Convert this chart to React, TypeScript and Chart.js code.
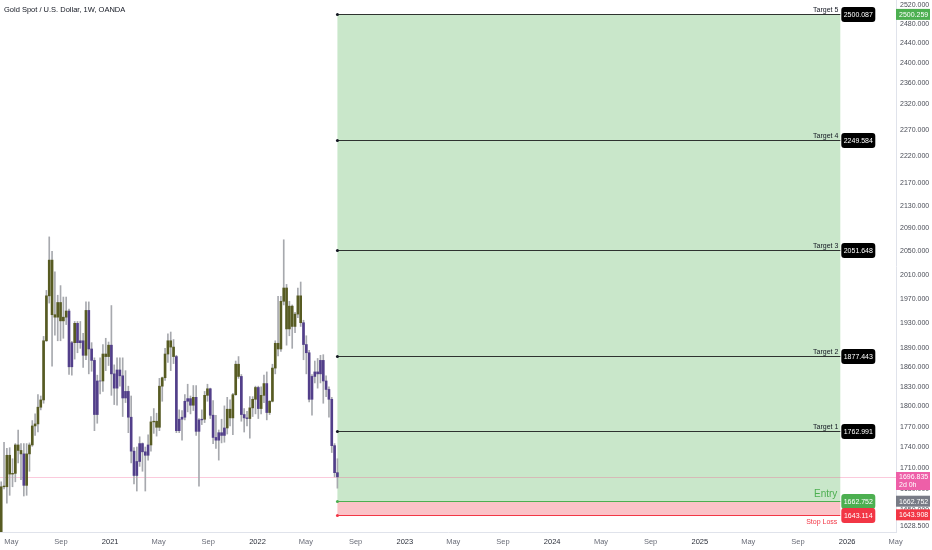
import React, { useEffect, useRef } from 'react';
import { Chart, registerables } from 'chart.js';

Chart.register(...registerables);

const FONT = '"Liberation Sans Narrow", "Liberation Sans", Arial, sans-serif';

const chartTitle = 'Gold Spot / U.S. Dollar, 1W, OANDA';
const firstWeek = '2020-04-06';
const xDomain = ['2020-04-03', '2026-05-02'];
const priceRange = [1620.4, 2530.6];

// weekly OHLC, Apr 2020 – Jul 2022
const opens = [
  1620, 1684, 1683, 1728, 1701, 1702, 1743, 1735, 1730, 1685, 1730, 1743, 1771, 1774, 1799, 1810, 1902, 1975, 2035, 1944,
  1940, 1964, 1934, 1940, 1950, 1861, 1899, 1930, 1899, 1902, 1879, 1951, 1889, 1871, 1788, 1839, 1839, 1881, 1877,
  1895, 1850, 1828, 1856, 1847, 1813, 1823, 1784, 1734, 1699, 1719, 1745, 1733, 1728, 1743, 1777, 1778, 1769, 1831, 1844,
  1881, 1902, 1892, 1877, 1764, 1781, 1784, 1808, 1812, 1802, 1814, 1763, 1780, 1781, 1817, 1827, 1787, 1754, 1750, 1761,
  1757, 1768, 1796, 1783, 1818, 1865, 1846, 1788, 1783, 1782, 1798, 1811,
  1829, 1797, 1817, 1835, 1791, 1808, 1859, 1898, 1889, 1966, 1988, 1921, 1958, 1925, 1945, 1975, 1931, 1896, 1883, 1811,
  1846, 1853, 1850, 1871, 1839, 1826, 1811, 1742, 1703,
];
const highs = [
  1690, 1747, 1738, 1739, 1723, 1745, 1765, 1745, 1745, 1745, 1746, 1779, 1789, 1818, 1816, 1909, 1984, 2075, 2050, 2015,
  1976, 1992, 1973, 1973, 1953, 1901, 1933, 1933, 1933, 1914, 1965, 1965, 1899, 1875, 1848, 1875, 1896, 1906, 1900,
  1959, 1864, 1875, 1875, 1875, 1855, 1831, 1816, 1739, 1740, 1755, 1746, 1740, 1758, 1785, 1797, 1790, 1843, 1845, 1890,
  1913, 1916, 1904, 1879, 1795, 1794, 1818, 1834, 1816, 1832, 1832, 1782, 1795, 1823, 1834, 1828, 1809, 1787, 1765, 1781,
  1801, 1814, 1810, 1820, 1870, 1877, 1849, 1797, 1793, 1815, 1815, 1831,
  1831, 1830, 1848, 1853, 1809, 1865, 1902, 1974, 1974, 2070, 1994, 1966, 1960, 1948, 1988, 1998, 1935, 1910, 1887, 1849,
  1870, 1874, 1879, 1880, 1847, 1830, 1814, 1745, 1723,
];
const lows = [
  1606, 1680, 1660, 1671, 1683, 1690, 1717, 1693, 1670, 1671, 1705, 1741, 1757, 1762, 1795, 1805, 1901, 1963, 1862, 1911,
  1902, 1902, 1906, 1928, 1849, 1848, 1873, 1883, 1890, 1860, 1872, 1850, 1854, 1764, 1775, 1819, 1823, 1855, 1863,
  1817, 1803, 1802, 1831, 1785, 1806, 1761, 1717, 1687, 1677, 1712, 1705, 1677, 1721, 1734, 1760, 1756, 1764, 1808, 1840,
  1868, 1855, 1866, 1761, 1761, 1750, 1780, 1792, 1789, 1794, 1757, 1684, 1773, 1776, 1808, 1782, 1745, 1738, 1721, 1746,
  1747, 1759, 1771, 1758, 1817, 1843, 1778, 1762, 1771, 1753, 1785, 1789,
  1782, 1789, 1806, 1780, 1788, 1807, 1850, 1878, 1885, 1960, 1895, 1910, 1890, 1915, 1939, 1925, 1872, 1850, 1807, 1787,
  1836, 1828, 1836, 1805, 1815, 1784, 1732, 1697, 1681,
];
const closes = [
  1683, 1683, 1728, 1701, 1702, 1743, 1735, 1730, 1685, 1730, 1743, 1771, 1774, 1799, 1810, 1902, 1975, 2035, 1944, 1940,
  1964, 1934, 1940, 1950, 1861, 1899, 1930, 1899, 1902, 1879, 1951, 1889, 1871, 1788, 1839, 1839, 1881, 1877, 1895,
  1850, 1828, 1856, 1847, 1813, 1823, 1784, 1734, 1699, 1719, 1745, 1733, 1728, 1743, 1777, 1778, 1769, 1831, 1844, 1881,
  1902, 1892, 1877, 1764, 1781, 1784, 1808, 1812, 1802, 1814, 1763, 1780, 1781, 1817, 1827, 1787, 1754, 1750, 1761, 1757,
  1768, 1796, 1783, 1818, 1865, 1846, 1788, 1783, 1782, 1798, 1811, 1829,
  1797, 1817, 1835, 1791, 1808, 1859, 1898, 1889, 1966, 1988, 1921, 1958, 1925, 1945, 1975, 1931, 1896, 1883, 1811, 1846,
  1853, 1850, 1871, 1839, 1826, 1811, 1742, 1703, 1697,
];

const targetNames = ['Target 1', 'Target 2', 'Target 3', 'Target 4', 'Target 5'];
const targetValues = [1762.991, 1877.443, 2051.648, 2249.584, 2500.087];
const entryLabel = 'Entry';
const entryPrice = 1662.752;
const stopLabel = 'Stop Loss';
const stopPrice = 1643.114;
const positionStart = '2022-07-18';
const positionEnd = '2025-12-15';

const lastPrice = 1696.835;
const countdown = '2d 0h';
const axisTargetPrice = 2500.259;
const axisEntryPrice = 1662.752;
const axisStopPrice = 1643.908;

const yTicks = [2520, 2480, 2440, 2400, 2360, 2320, 2270, 2220, 2170, 2130, 2090, 2050, 2010, 1970, 1930, 1890, 1860, 1830, 1800, 1770, 1740, 1710, 1680, 1650, 1628.5];
const xTickDates = [
  '2020-05-01', '2020-09-01', '2021-01-01', '2021-05-01', '2021-09-01', '2022-01-01', '2022-05-01', '2022-09-01',
  '2023-01-01', '2023-05-01', '2023-09-01', '2024-01-01', '2024-05-01', '2024-09-01', '2025-01-01', '2025-05-01',
  '2025-09-01', '2026-01-01', '2026-05-01',
];
const monthNames = ['Jan', 'Feb', 'Mar', 'Apr', 'May', 'Jun', 'Jul', 'Aug', 'Sep', 'Oct', 'Nov', 'Dec'];

const EPOCH = Date.UTC(2020, 0, 1);
const dayNum = (s: string) => (Date.parse(s + 'T00:00:00Z') - EPOCH) / 86400000;
const labelForDay = (d: number) => {
  const dt = new Date(EPOCH + Math.round(d) * 86400000);
  const m = dt.getUTCMonth();
  return m === 0 ? String(dt.getUTCFullYear()) : monthNames[m];
};

const OLIVE = '#575b22';
const PURPLE = '#523f8a';
const MAROON = '#772a46';
const WICK = '#a7a9ae';

function font(size: number, weight = 'normal') {
  return `${weight} ${size}px ${FONT}`;
}

function roundRect(ctx: CanvasRenderingContext2D, x: number, y: number, w: number, h: number, r: number) {
  ctx.beginPath();
  ctx.moveTo(x + r, y);
  ctx.lineTo(x + w - r, y);
  ctx.quadraticCurveTo(x + w, y, x + w, y + r);
  ctx.lineTo(x + w, y + h - r);
  ctx.quadraticCurveTo(x + w, y + h, x + w - r, y + h);
  ctx.lineTo(x + r, y + h);
  ctx.quadraticCurveTo(x, y + h, x, y + h - r);
  ctx.lineTo(x, y + r);
  ctx.quadraticCurveTo(x, y, x + r, y);
  ctx.closePath();
}

const overlayPlugin = {
  id: 'tvOverlay',
  beforeDatasetsDraw(chart: any) {
    const { ctx, chartArea, scales } = chart;
    const x = scales.x;
    const y = scales.y;
    const x0 = x.getPixelForValue(dayNum(positionStart));
    const x1 = x.getPixelForValue(dayNum(positionEnd));
    const yT = y.getPixelForValue(targetValues[targetValues.length - 1]);
    const yE = y.getPixelForValue(entryPrice);
    const yS = y.getPixelForValue(stopPrice);
    ctx.save();
    ctx.fillStyle = 'rgba(76,175,80,0.3)';
    ctx.fillRect(x0, yT, x1 - x0, yE - yT);
    ctx.fillStyle = 'rgba(242,54,69,0.3)';
    ctx.fillRect(x0, yE, x1 - x0, yS - yE);
    const yL = Math.round(y.getPixelForValue(lastPrice)) + 0.5;
    ctx.strokeStyle = 'rgba(242,80,140,0.3)';
    ctx.lineWidth = 1;
    ctx.beginPath();
    ctx.moveTo(chartArea.left, yL);
    ctx.lineTo(chartArea.right, yL);
    ctx.stroke();
    ctx.restore();
  },
  afterDatasetsDraw(chart: any) {
    const { ctx, scales } = chart;
    const x = scales.x;
    const y = scales.y;
    const x0 = x.getPixelForValue(dayNum(positionStart));
    const x1 = x.getPixelForValue(dayNum(positionEnd));
    ctx.save();
    const drawLevel = (value: number, color: string, dot: string, boxColor: string) => {
      const yy = Math.round(y.getPixelForValue(value)) + 0.5;
      ctx.strokeStyle = color;
      ctx.lineWidth = 1;
      ctx.beginPath();
      ctx.moveTo(x0, yy);
      ctx.lineTo(x1, yy);
      ctx.stroke();
      ctx.fillStyle = dot;
      ctx.beginPath();
      ctx.arc(x0, yy, 1.5, 0, Math.PI * 2);
      ctx.fill();
      roundRect(ctx, x1 + 1, yy - 7.5, 34, 15, 3);
      ctx.fillStyle = boxColor;
      ctx.fill();
      ctx.fillStyle = '#ffffff';
      ctx.font = font(7);
      ctx.textAlign = 'center';
      ctx.textBaseline = 'middle';
      ctx.fillText(value.toFixed(3), x1 + 18, yy + 0.5);
      return yy;
    };
    targetValues.forEach((v, i) => {
      const yy = drawLevel(v, '#2e3330', '#131722', '#000000');
      ctx.fillStyle = '#131722';
      ctx.font = font(7);
      ctx.textAlign = 'right';
      ctx.textBaseline = 'bottom';
      ctx.fillText(targetNames[i], x1 - 2, yy - 1);
    });
    const yE = drawLevel(entryPrice, '#4caf50', '#4caf50', '#4caf50');
    ctx.fillStyle = '#4caf50';
    ctx.font = font(10);
    ctx.textAlign = 'right';
    ctx.textBaseline = 'bottom';
    ctx.fillText(entryLabel, x1 - 3, yE - 2);
    const yS = drawLevel(stopPrice, '#f23645', '#f23645', '#f23645');
    ctx.fillStyle = '#f23645';
    ctx.font = font(7);
    ctx.textAlign = 'right';
    ctx.textBaseline = 'top';
    ctx.fillText(stopLabel, x1 - 3, yS + 3);
    ctx.restore();
  },
  afterDraw(chart: any) {
    const { ctx, scales, chartArea } = chart;
    const y = scales.y;
    const left = chartArea.right;
    ctx.save();
    const tag = (value: number, bg: string, text: string, second?: string) => {
      const yy = y.getPixelForValue(value);
      const h = second ? 18 : 11;
      const top = second ? yy - 5 : yy - h / 2;
      ctx.fillStyle = bg;
      ctx.fillRect(left, top, 34, h);
      ctx.fillStyle = '#ffffff';
      ctx.font = font(7);
      ctx.textAlign = 'left';
      ctx.textBaseline = 'middle';
      ctx.fillText(text, left + 3, second ? top + 5 : yy + 0.5);
      if (second) ctx.fillText(second, left + 3, top + 13.5);
    };
    tag(axisTargetPrice, '#4caf50', axisTargetPrice.toFixed(3));
    tag(lastPrice, '#ee5fa8', lastPrice.toFixed(3), countdown);
    tag(axisEntryPrice, '#787b86', axisEntryPrice.toFixed(3));
    tag(axisStopPrice, '#f23645', axisStopPrice.toFixed(3));
    ctx.fillStyle = '#131722';
    ctx.font = font(7.5);
    ctx.textAlign = 'left';
    ctx.textBaseline = 'middle';
    ctx.fillText(chartTitle, 4, 10);
    ctx.restore();
  },
};

export default function App() {
  const canvasRef = useRef<HTMLCanvasElement | null>(null);

  useEffect(() => {
    document.body.style.margin = '0';
    const canvas = canvasRef.current;
    if (!canvas) return;

    const start = dayNum(firstWeek);
    const days = closes.map((_, i) => start + i * 7);

    // trend colouring from a 10-week EMA of closes
    const ema: number[] = [];
    closes.forEach((c, i) => ema.push(i === 0 ? c : ema[i - 1] + ((c - ema[i - 1]) * 2) / 11));
    const bodyColors = closes.map((c, i) => (c >= ema[i] ? OLIVE : c < ema[i] * 0.94 ? MAROON : PURPLE));

    const xTickDays = xTickDates.map(dayNum);

    const chart = new Chart(canvas, {
      type: 'bar',
      data: {
        datasets: [
          {
            label: 'wick',
            data: days.map((d, i) => ({ x: d, y: [lows[i], highs[i]] })) as any,
            backgroundColor: WICK,
            barThickness: 1,
            grouped: false,
            borderWidth: 0,
            order: 2,
          },
          {
            label: 'body',
            data: days.map((d, i) => ({ x: d, y: [Math.min(opens[i], closes[i]), Math.max(opens[i], closes[i])] })) as any,
            backgroundColor: bodyColors,
            barThickness: 2,
            grouped: false,
            borderWidth: 0,
            order: 1,
          },
        ],
      },
      options: {
        responsive: false,
        animation: false,
        devicePixelRatio: 1,
        layout: { padding: 0 },
        plugins: {
          legend: { display: false },
          tooltip: { enabled: false },
          title: { display: false },
        },
        scales: {
          x: {
            type: 'linear',
            min: dayNum(xDomain[0]),
            max: dayNum(xDomain[1]),
            offset: false,
            grid: { display: false, drawTicks: false },
            border: { display: true, color: '#e0e3eb' },
            afterBuildTicks: (s: any) => {
              s.ticks = xTickDays.map((v) => ({ value: v }));
            },
            afterFit: (s: any) => {
              s.height = 18;
              s.paddingLeft = 0;
              s.paddingRight = 0;
            },
            ticks: {
              autoSkip: false,
              maxRotation: 0,
              padding: 5,
              font: { family: FONT, size: 7.5 },
              color: (c: any) => {
                const v = c.tick ? c.tick.value : 0;
                return /^\d{4}$/.test(labelForDay(v)) ? '#2a2e39' : '#6a6d78';
              },
              callback: (v: any) => labelForDay(Number(v)),
            },
          },
          y: {
            type: 'logarithmic',
            position: 'right',
            min: priceRange[0],
            max: priceRange[1],
            grid: { display: false, drawTicks: false },
            border: { display: true, color: '#e0e3eb' },
            afterBuildTicks: (s: any) => {
              s.ticks = yTicks.map((v) => ({ value: v }));
            },
            afterFit: (s: any) => {
              s.width = 36;
              s.paddingTop = 0;
              s.paddingBottom = 0;
            },
            ticks: {
              autoSkip: false,
              padding: 4,
              font: { family: FONT, size: 7 },
              color: '#4a4d57',
              callback: (v: any) => Number(v).toFixed(3),
            },
          },
        },
      } as any,
      plugins: [overlayPlugin],
    });

    return () => chart.destroy();
  }, []);

  return (
    <div style={{ position: 'absolute', left: 0, top: 0, width: 932, height: 550, background: '#ffffff' }}>
      <canvas ref={canvasRef} width={932} height={550} style={{ display: 'block', width: 932, height: 550 }} />
    </div>
  );
}
